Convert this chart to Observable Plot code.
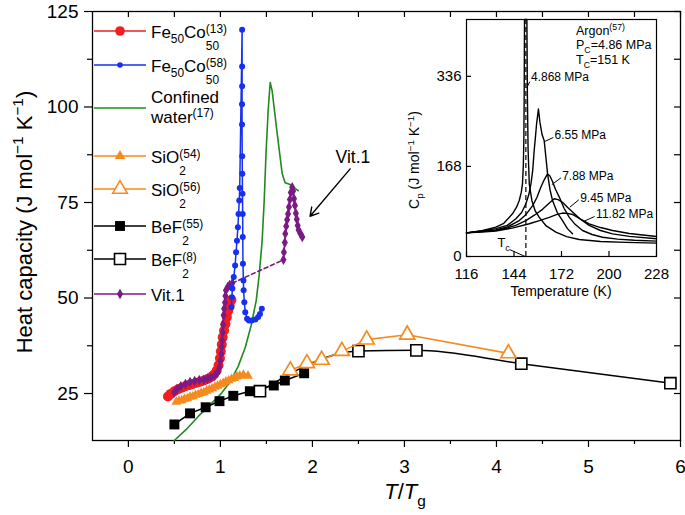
<!DOCTYPE html>
<html><head><meta charset="utf-8">
<script src="https://cdn.jsdelivr.net/npm/d3@7"></script>
<script src="https://cdn.jsdelivr.net/npm/@observablehq/plot@0.6"></script>
<style>
html,body{margin:0;padding:0;background:#fff;}
#wrap{position:relative;width:685px;height:515px;overflow:hidden;background:#fff;}
#wrap svg{position:absolute;}
text{white-space:pre;}
</style></head><body><div id="wrap"></div>
<script>
// ---------- axis ticks ----------
const xMajor = [0, 1, 2, 3, 4, 5, 6];
const xMinor = [0.5, 1.5, 2.5, 3.5, 4.5, 5.5];
const yMajor = [25, 50, 75, 100, 125];
const yMinor = [37.5, 62.5, 87.5, 112.5];

// ---------- main data: [T/Tg, Cp] ----------
const feco13 = [[0.43,24.2],[0.46,24.9],[0.50,25.6],[0.54,26.1],[0.58,26.5],[0.62,26.9],[0.66,27.2],[0.70,27.5],[0.74,27.8],[0.78,28.1],[0.82,28.4],[0.86,28.8],[0.90,29.3],[0.93,30.0],[0.96,31.0],[0.98,32.4],[0.995,34.2],[1.005,36.0],[1.015,37.8],[1.025,39.7],[1.04,41.5],[1.055,43.2],[1.07,45.0],[1.085,46.7],[1.10,48.2],[1.12,49.5]];
const feco58 = [[1.12,47.6],[1.125,50.2],[1.13,52.5],[1.145,55.5],[1.16,58.5],[1.17,62.0],[1.18,65.0],[1.19,68.5],[1.197,72.0],[1.205,75.5],[1.21,78.8],[1.236,120.2],[1.236,110.6],[1.236,105.4],[1.235,100.7],[1.235,95.4],[1.237,87.1],[1.238,82.5],[1.240,77.3],[1.242,72.0],[1.243,66.0],[1.245,59.0],[1.25,54.6],[1.252,52.0],[1.26,48.9],[1.27,46.3],[1.29,44.6],[1.31,44.1],[1.34,44.1],[1.38,44.4],[1.41,45.0],[1.43,45.8],[1.45,47.2]];
const water = [[0.499,12.7],[0.629,15.6],[0.759,19.0],[0.890,22.1],[0.998,24.7],[1.107,28.1],[1.193,32.1],[1.269,37.0],[1.334,42.8],[1.389,49.3],[1.421,55.9],[1.454,65.1],[1.476,75.5],[1.497,88.6],[1.519,99.1],[1.541,106.4],[1.562,104.3],[1.617,93.1],[1.671,82.6],[1.703,80.2],[1.758,79.7],[1.845,78.1]];
const sio2_54 = [[0.52,22.8],[0.55,23.1],[0.58,23.2],[0.61,23.6],[0.64,23.7],[0.67,24.1],[0.70,24.2],[0.73,24.6],[0.76,24.8],[0.79,25.1],[0.82,25.3],[0.85,25.7],[0.88,26.0],[0.91,26.3],[0.94,26.7],[0.97,27.0],[1.00,27.4],[1.03,27.7],[1.06,28.1],[1.09,28.4],[1.12,28.8],[1.15,29.0],[1.18,29.4],[1.21,29.6],[1.25,29.9],[1.30,29.6]];
const sio2_56 = [[1.76,31.0],[1.94,32.9],[2.10,33.8],[2.32,36.1],[2.59,39.1],[3.03,40.4],[4.13,35.5]];
const bef2_55 = [[0.50,16.9],[0.67,19.8],[0.84,21.4],[0.99,23.0],[1.14,24.4],[1.32,25.6],[1.58,27.1],[1.70,28.4],[1.91,30.3]];
const bef2_8 = [[1.43,25.6],[2.50,36.1],[3.13,36.3],[4.27,32.8],[5.89,27.7]];
const vit1a = [[0.50,25.3],[0.53,26.2],[0.57,26.9],[0.62,27.5],[0.67,28.0],[0.72,28.3],[0.77,28.5],[0.82,28.6],[0.86,28.9],[0.90,29.2],[0.94,29.7],[0.97,30.6],[0.99,31.9],[1.00,33.6],[1.01,35.4],[1.015,37.2],[1.02,38.9],[1.025,41.0],[1.03,43.0],[1.035,45.5],[1.04,47.2],[1.05,48.8],[1.055,50.5],[1.06,52.0],[1.08,52.9],[1.10,53.4],[1.13,53.9]];
const vit1b = [[1.685,60.0],[1.69,62.0],[1.70,64.5],[1.705,66.8],[1.715,68.8],[1.725,70.5],[1.735,72.0],[1.745,73.8],[1.755,75.8],[1.765,77.6],[1.78,79.0],[1.79,78.0],[1.80,76.0],[1.81,74.2],[1.82,72.2],[1.83,70.6],[1.84,69.0],[1.85,67.8],[1.87,66.8],[1.89,66.0]];
const vitNote = {text: "Vit.1", x: 2.44, y: 86.9, x1: 2.41, y1: 83.8, x2: 1.974, y2: 71.4};

// ---------- inset data: [T (K), Cp] ----------
const insetTicksT = [116, 144, 172, 200, 228];
const insetTicksCp = [0, 168, 336];
const argonTc = 151;
const p4868 = [[116,44],[125,48],[133.3,54.7],[138,62],[143.1,79.6],[145.5,92],[147.1,104.5],[148.3,120],[149.0,135.6],[149.5,170],[149.8,216],[150.0,300],[150.2,442],[151.6,442],[151.9,300],[152.3,200],[153.0,135.6],[154.5,105],[156.5,85],[158.8,73.4],[163,57],[168.7,45.4],[175,37],[182.4,31.7],[195,28],[210,26.3],[228,25]];
const p655 = [[116,44],[125,47.5],[133.3,52],[140,58],[145.1,70.3],[148.5,82],[151,98.3],[152.7,115],[154,135.6],[155,160],[155.9,197.8],[156.7,225],[157.3,247],[158.4,275],[159.3,250],[160.5,228],[161.8,216],[162.8,185],[163.8,154],[165.2,125],[166.7,104.5],[169.5,82],[172.6,67],[175.5,52],[178.5,42.3]];
const p788 = [[116,44],[125,47],[133.3,49.7],[140,55],[147.1,67],[151,78],[155,95],[157.5,110],[159.8,129],[161.8,143],[163.8,154],[165.2,150],[166.7,140],[168.5,125],[170.7,110.8],[173.5,90],[176.5,73.4],[180,60],[184.4,48.5],[190,41],[196.2,36],[205,32.5],[215,30.3],[228,28.6]];
const p945 = [[116,44],[125,46.5],[133.3,49],[140,53],[145,58],[151,67],[156,77],[160.8,88],[164.5,99],[167.7,107.6],[170,106],[172.6,101],[175.5,92],[178.5,83],[183,70],[188.3,58],[195,48.5],[202.1,42.3],[212,37.5],[228,33]];
const p1182 = [[116,44],[125,45.5],[133.3,47.5],[143,53],[153,61],[159,67],[164.8,73],[169,78],[172.6,81],[175.5,80.5],[178.5,78.4],[183,70],[188.3,61],[195,54],[202.1,48.5],[212,43],[228,37.4]];
const insetNotes = [
  {label: "4.868 MPa", T: 154.0, cp: 335, x1: 153.3, y1: 326, x2: 151.4, y2: 314},
  {label: "6.55 MPa", T: 167.9, cp: 225.7, x1: 167.2, y1: 222, x2: 161.8, y2: 214},
  {label: "7.88 MPa", T: 172.4, cp: 149, x1: 171.7, y1: 146.8, x2: 166.3, y2: 134},
  {label: "9.45 MPa", T: 183.0, cp: 109.5, x1: 182.2, y1: 105.7, x2: 176.9, y2: 92},
  {label: "11.82 MPa", T: 192.4, cp: 78.4, x1: 191.5, y1: 74.6, x2: 185.4, y2: 65.9}
];
const tcLeader = [{x1: 141.4, y1: 13, x2: 150.6, y2: 0}];

// ---------- style ----------
const FONT = '"Liberation Sans", Arial, Helvetica, sans-serif';
const RED = "#f21d1d", BLUE = "#1530f0", GREEN = "#1f8b1f", ORANGE = "#f58a1f", PURPLE = "#7b1a85";
const X = d => d[0], Y = d => d[1];

const wrap = document.getElementById("wrap");

const main = Plot.plot({
  width: 685, height: 515,
  marginLeft: 92, marginRight: 5, marginTop: 11, marginBottom: 75,
  style: {fontFamily: FONT, background: "transparent", color: "black", overflow: "visible"},
  x: {domain: [-0.39, 6]},
  y: {domain: [12.7, 125]},
  marks: [
    Plot.axisX({ticks: xMajor, tickSize: 7, tickPadding: 12, fontSize: 19, label: null, strokeWidth: 1.2, tickFormat: d => String(d)}),
    Plot.axisX({ticks: xMinor, tickSize: 4, tickFormat: () => "", label: null, strokeWidth: 1.2}),
    Plot.tickX(xMajor.concat(xMinor), {x: d => d, insetBottom: 423, strokeWidth: 1.2}),
    Plot.axisY({ticks: yMajor, tickSize: 8, tickPadding: 6, fontSize: 19, label: null, strokeWidth: 1.2, tickFormat: d => String(d)}),
    Plot.axisY({ticks: yMinor, tickSize: 5, tickFormat: () => "", label: null, strokeWidth: 1.2}),
    Plot.tickY(yMajor.concat(yMinor), {y: d => d, insetLeft: 582, strokeWidth: 1.2}),
    Plot.frame({strokeWidth: 1.3}),
    Plot.line(water, {x: X, y: Y, stroke: GREEN, strokeWidth: 1.6}),
    Plot.line(sio2_54, {x: X, y: Y, stroke: ORANGE, strokeWidth: 1.5}),
    Plot.dot(sio2_54, {x: X, y: Y, symbol: "triangle", fill: ORANGE, r: 3.6}),
    Plot.line(bef2_55, {x: X, y: Y, stroke: "black", strokeWidth: 1.5}),
    Plot.dot(bef2_55, {x: X, y: Y, symbol: "square", fill: "black", r: 5.6}),
    Plot.line(bef2_8, {x: X, y: Y, stroke: "black", strokeWidth: 1.5, curve: "monotone-x"}),
    Plot.dot(bef2_8, {x: X, y: Y, symbol: "square", fill: "white", stroke: "black", strokeWidth: 1.6, r: 6.3}),
    Plot.line(sio2_56, {x: X, y: Y, stroke: ORANGE, strokeWidth: 1.6}),
    Plot.dot(sio2_56, {x: X, y: Y, symbol: "triangle", fill: "white", stroke: ORANGE, strokeWidth: 1.7, r: 5.6}),
    Plot.line(feco13, {x: X, y: Y, stroke: RED, strokeWidth: 1.5}),
    Plot.dot(feco13, {x: X, y: Y, fill: RED, r: 5}),
    Plot.line(vit1a, {x: X, y: Y, stroke: PURPLE, strokeWidth: 1.5}),
    Plot.line([vit1a[vit1a.length - 1], vit1b[0]], {x: X, y: Y, stroke: PURPLE, strokeWidth: 1.6, strokeDasharray: "4,3"}),
    Plot.line(vit1b, {x: X, y: Y, stroke: PURPLE, strokeWidth: 1.5}),
    Plot.dot(vit1a.concat(vit1b), {x: X, y: Y, symbol: "diamond", fill: PURPLE, r: 3.2}),
    Plot.line(feco58, {x: X, y: Y, stroke: BLUE, strokeWidth: 1.5}),
    Plot.dot(feco58, {x: X, y: Y, fill: BLUE, r: 3}),
    Plot.arrow([vitNote], {x1: "x1", y1: "y1", x2: "x2", y2: "y2", stroke: "black", strokeWidth: 1.4, headLength: 10}),
    Plot.text([vitNote], {x: "x", y: "y", text: "text", fontSize: 17.5, fill: "black"})
  ]
});
main.style.left = "0px"; main.style.top = "0px";
wrap.appendChild(main);

const inset = Plot.plot({
  width: 270, height: 292,
  marginLeft: 66, marginRight: 14, marginTop: 9, marginBottom: 46,
  style: {fontFamily: FONT, background: "transparent", color: "black", overflow: "visible"},
  x: {domain: [116, 228]},
  y: {domain: [0, 442]},
  marks: [
    Plot.frame({strokeWidth: 1.2}),
    Plot.axisX({ticks: insetTicksT, tickSize: 0, tickPadding: 12, fontSize: 15, label: null, tickFormat: d => String(d)}),
    Plot.tickX(insetTicksT, {x: d => d, insetTop: 232, strokeWidth: 1.2}),
    Plot.axisY({ticks: insetTicksCp, tickSize: 0, tickPadding: 5, fontSize: 15, label: null, tickFormat: d => String(d)}),
    Plot.tickY(insetTicksCp, {y: d => d, insetRight: 185, strokeWidth: 1.2}),
    Plot.ruleX([argonTc], {x: d => d, y1: 0, y2: 442, strokeDasharray: "5,3", strokeWidth: 1.2}),
    Plot.line(p4868, {x: X, y: Y, stroke: "black", strokeWidth: 1.4}),
    Plot.line(p655, {x: X, y: Y, stroke: "black", strokeWidth: 1.4}),
    Plot.line(p788, {x: X, y: Y, stroke: "black", strokeWidth: 1.4}),
    Plot.line(p945, {x: X, y: Y, stroke: "black", strokeWidth: 1.4}),
    Plot.line(p1182, {x: X, y: Y, stroke: "black", strokeWidth: 1.4}),
    Plot.link(insetNotes, {x1: "x1", y1: "y1", x2: "x2", y2: "y2", stroke: "black", strokeWidth: 1}),
    Plot.link(tcLeader, {x1: "x1", y1: "y1", x2: "x2", y2: "y2", stroke: "black", strokeWidth: 1}),
    Plot.text(insetNotes, {x: "T", y: "cp", text: "label", textAnchor: "start", fontSize: 12, fill: "black"})
  ]
});
inset.style.left = "400px"; inset.style.top = "10px";
wrap.appendChild(inset);

// ---------- rich text helper ----------
function rich(sel, parts, fs, x, y, {anchor = "start", rotate = 0} = {}) {
  const outer = sel.append("g").attr("text-anchor", "start");
  const g = outer.append("g");
  let cx = 0;
  const sm = fs * 0.7;
  const mk = (xx, yy, size, t) => g.append("text").attr("x", xx).attr("y", yy)
    .attr("font-size", size).attr("fill", "black").attr("text-anchor", "start").text(t);
  for (const p of parts) {
    const [t, kind] = typeof p === "string" ? [p, "n"] : p;
    if (kind === "stack") {
      const a = mk(cx, -fs * 0.3, sm, t[0]);
      const b = mk(cx, fs * 0.68, sm, t[1]);
      cx += Math.max(a.node().getComputedTextLength(), b.node().getComputedTextLength());
    } else {
      const small = kind === "sup" || kind === "sub";
      const dy = kind === "sup" ? -fs * 0.38 : kind === "sub" ? fs * 0.32 : 0;
      const el = mk(cx, dy, small ? sm : fs, t);
      if (kind === "it") el.attr("font-style", "italic");
      cx += el.node().getComputedTextLength();
    }
  }
  const off = anchor === "middle" ? -cx / 2 : anchor === "end" ? -cx : 0;
  g.attr("transform", `translate(${off},0)`);
  outer.attr("transform", `translate(${x},${y})` + (rotate ? ` rotate(${rotate})` : ""));
  return cx;
}

// ---------- main labels ----------
const ms = d3.select(main);
rich(ms, ["Heat capacity (J mol", ["\u22121", "sup"], " K", ["\u22121", "sup"], ")"], 22, 31.5, 222, {anchor: "middle", rotate: -90});
rich(ms, [["T", "it"], "/", ["T", "it"], ["g", "sub"]], 22, 405, 499, {anchor: "middle"});

// ---------- legend ----------
const legendItems = [
  {color: RED, symbol: d3.symbolCircle, r: 4.8, fill: RED, label: ["Fe", ["50", "sub"], "Co", [["(13)", "50"], "stack"]]},
  {color: BLUE, symbol: d3.symbolCircle, r: 2.8, fill: BLUE, label: ["Fe", ["50", "sub"], "Co", [["(58)", "50"], "stack"]]},
  {color: GREEN, symbol: null, label: null},
  {color: ORANGE, symbol: d3.symbolTriangle, r: 3.9, fill: ORANGE, label: ["SiO", [["(54)", "2"], "stack"]]},
  {color: ORANGE, symbol: d3.symbolTriangle, r: 5.4, fill: "white", stroke: ORANGE, label: ["SiO", [["(56)", "2"], "stack"]]},
  {color: "black", symbol: d3.symbolSquare, r: 5.6, fill: "black", label: ["BeF", [["(55)", "2"], "stack"]]},
  {color: "black", symbol: d3.symbolSquare, r: 6.2, fill: "white", stroke: "black", label: ["BeF", [["(8)", "2"], "stack"]]},
  {color: PURPLE, symbol: d3.symbolDiamond, r: 3.2, fill: PURPLE, label: ["Vit.1"]}
];
const legendRowY = [31, 65, 108, 156, 189, 226, 259, 294];
const lg = ms.append("g");
legendItems.forEach((it, i) => {
  const y = legendRowY[i];
  lg.append("line").attr("x1", 94).attr("x2", 146).attr("y1", y).attr("y2", y)
    .attr("stroke", it.color).attr("stroke-width", 1.6);
  if (it.symbol) {
    lg.append("path").attr("d", d3.symbol(it.symbol, Math.PI * it.r * it.r)())
      .attr("transform", `translate(120,${y})`)
      .attr("fill", it.fill).attr("stroke", it.stroke || "none").attr("stroke-width", 1.6);
  }
  if (it.label) rich(lg, it.label, 17, 151, y + 7);
});
rich(lg, ["Confined"], 17, 151, 103);
rich(lg, ["water", ["(17)", "sup"]], 17, 151, 123);

// ---------- inset labels ----------
const is = d3.select(inset);
const sx = inset.scale("x");
rich(is, ["C", ["p", "sub"], " (J mol", ["\u22121", "sup"], " K", ["\u22121", "sup"], ")"], 14, 19, 150, {anchor: "middle", rotate: -90});
rich(is, ["Temperature (K)"], 14, 161, 286, {anchor: "middle"});
rich(is, ["Argon", ["(57)", "sup"]], 12.5, 176, 25);
rich(is, ["P", ["C", "sub"], "=4.86 MPa"], 12.5, 176, 38.5);
rich(is, ["T", ["C", "sub"], "=151 K"], 12.5, 176, 54);
rich(is, ["T", ["c", "sub"]], 13, sx.apply(134.5), 236.5);
</script></body></html>
